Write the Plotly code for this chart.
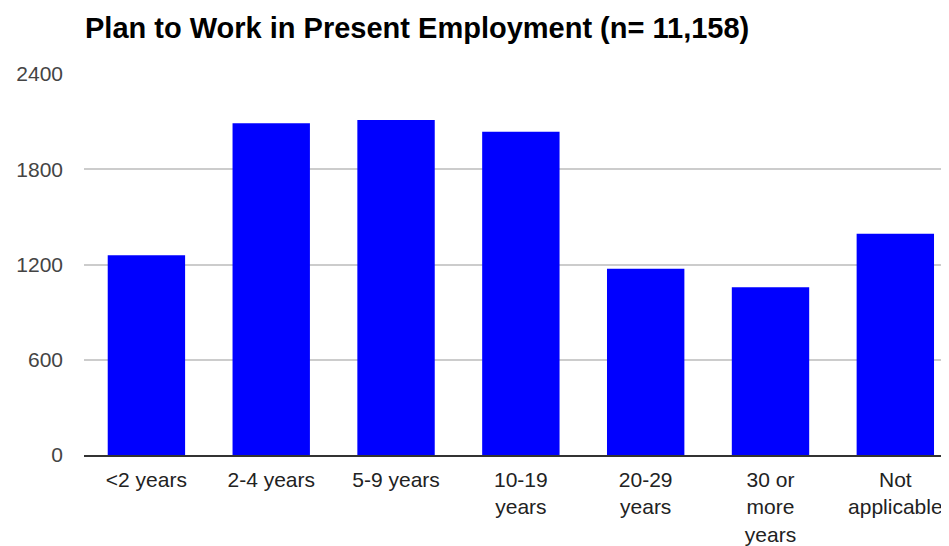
import plotly.graph_objects as go

categories = ["<2 years", "2-4 years", "5-9 years", "10-19<br>years", "20-29<br>years",
              "30 or<br>more<br>years", "Not<br>applicable"]
counts = [1258, 2089, 2110, 2037, 1173, 1056, 1394]
y_ticks = [0, 600, 1200, 1800, 2400]

fig = go.Figure(go.Bar(x=categories, y=counts, marker=dict(color="#0000ff", line=dict(width=0)),
                       hoverinfo="x+y"))

# page body has an 8px margin, so the figure is offset by 8px
W, H = 941, 538
fig.update_layout(
    width=W, height=H,
    margin=dict(l=76, r=0, t=66, b=89, pad=0),
    paper_bgcolor="white", plot_bgcolor="white",
    bargap=0.38,
    showlegend=False,
    font=dict(family="Arial, Liberation Sans, sans-serif", size=21, color="#222"),
    title=dict(text="<b>Plan to Work in Present Employment (n= 11,158)</b>",
               x=77 / W, xanchor="left", xref="container",
               y=1 - 20 / H, yanchor="middle", yref="container",
               font=dict(size=29, color="#000", family="Arial, Liberation Sans, sans-serif")),
)
fig.update_xaxes(
    type="category", range=[-0.5, 6.43], showgrid=False, showline=True,
    linecolor="#333", linewidth=1.5, ticks="", ticklabelstandoff=5,
    tickfont=dict(size=21, color="#222"), fixedrange=True,
)
fig.update_yaxes(
    range=[0, 2400], tickvals=y_ticks, ticktext=[str(v) for v in y_ticks],
    showgrid=True, gridcolor="#cccccc", gridwidth=1.5, zeroline=False, showline=False,
    ticks="", ticklabelstandoff=20, tickfont=dict(size=21, color="#444"), fixedrange=True,
)

fig.write_html("out.html")
